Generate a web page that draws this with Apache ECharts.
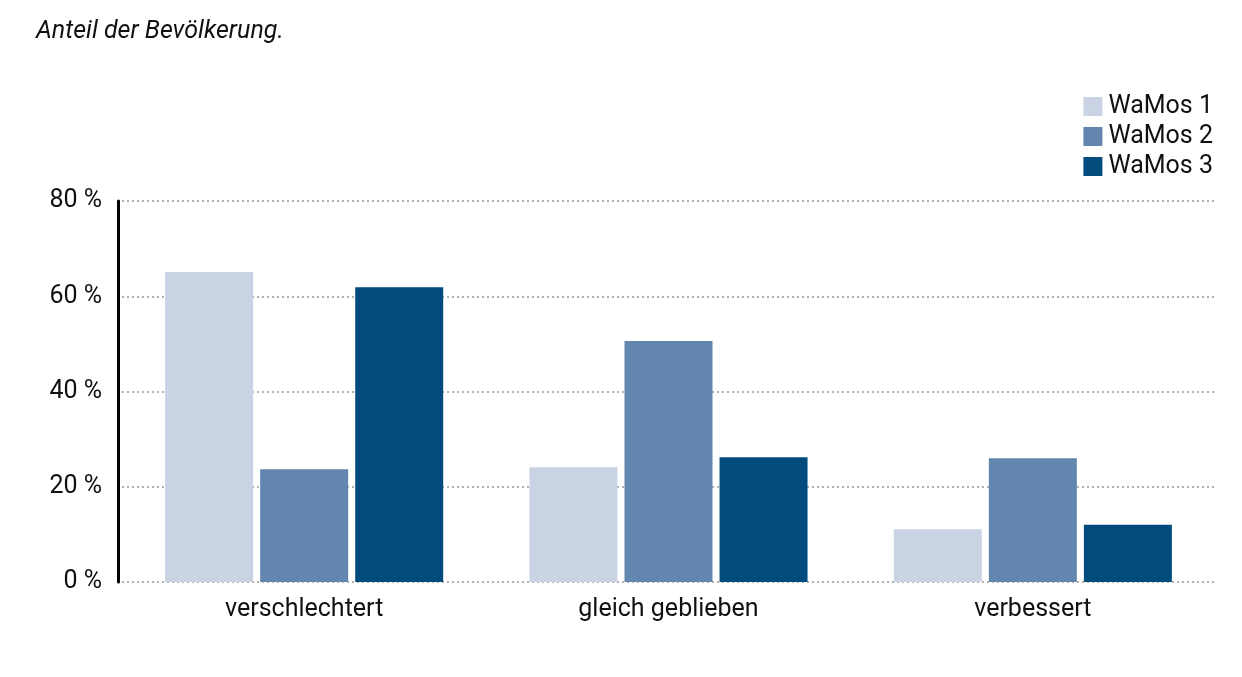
<!DOCTYPE html>
<html><head><meta charset="utf-8">
<script src="https://cdn.jsdelivr.net/npm/echarts@6/dist/echarts.min.js"></script>
<style>html,body{margin:0;padding:0;background:#fff}#c{width:1242px;height:677px}</style>
</head><body><div id="c"></div>
<script>
const categories = ['verschlechtert', 'gleich geblieben', 'verbessert'];
const seriesNames = ['WaMos 1', 'WaMos 2', 'WaMos 3'];
const wamos1 = [65.1, 24.1, 11.1];
const wamos2 = [23.7, 50.6, 26.0];
const wamos3 = [61.9, 26.2, 12.0];
const colors = ['#c9d3e3', '#6386ae', '#014c7c'];
const yTicks = [0, 20, 40, 60, 80];

const FONT = 'Roboto';
const chart = echarts.init(document.getElementById('c'), null, {renderer: 'canvas'});
const data = [wamos1, wamos2, wamos3];
chart.setOption({
  animation: false,
  textStyle: {fontFamily: FONT},
  title: {
    text: 'Anteil der Bevölkerung.',
    left: 31, top: 14,
    textStyle: {fontFamily: FONT, fontStyle: 'italic', fontWeight: 'normal', fontSize: 25, color: '#111'}
  },
  legend: {
    orient: 'vertical', right: 24, top: 89,
    itemWidth: 19, itemHeight: 19, itemGap: 5, itemStyle: {borderWidth: 0},
    icon: 'rect',
    textStyle: {fontFamily: FONT, fontSize: 25, color: '#111', padding: [0, 0, 0, 1]},
    data: seriesNames
  },
  grid: {left: 122, right: 27, top: 201, bottom: 95},
  xAxis: {
    type: 'category', data: categories,
    axisLine: {show: false}, axisTick: {show: false},
    axisLabel: {fontFamily: FONT, fontSize: 25, color: '#111', margin: 15}
  },
  yAxis: {
    type: 'value', min: 0, max: 80, interval: 20, offset: 4,
    axisLine: {show: true, lineStyle: {color: '#000', width: 3}},
    axisTick: {show: false},
    axisLabel: {fontFamily: FONT, fontSize: 25, color: '#111', margin: 16,
      formatter: v => yTicks.includes(v) ? v + ' %' : ''},
    splitLine: {show: true, lineStyle: {color: '#999', type: [2, 3], width: 1.5}}
  },
  series: seriesNames.map((n, i) => ({
    name: n, type: 'bar', data: data[i],
    barWidth: 88, barGap: '8%',
    itemStyle: {color: colors[i]}
  }))
});
</script></body></html>
